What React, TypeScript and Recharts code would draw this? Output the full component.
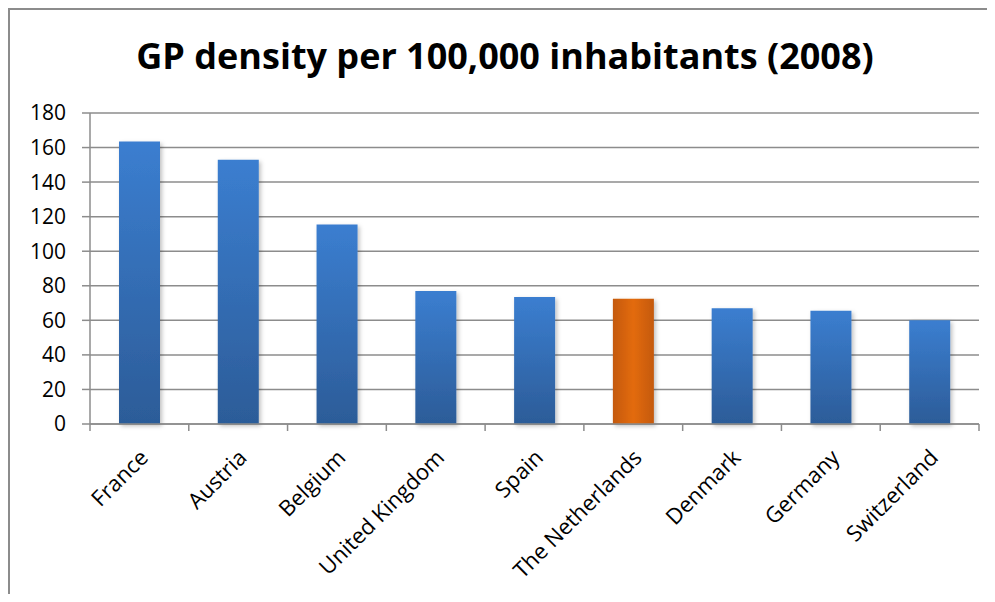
import React from "react";
import { BarChart, Bar, XAxis, YAxis, CartesianGrid, Cell } from "recharts";

const countries = [
  "France",
  "Austria",
  "Belgium",
  "United Kingdom",
  "Spain",
  "The Netherlands",
  "Denmark",
  "Germany",
  "Switzerland",
];
const density = [163.5, 153, 115.5, 77, 73.5, 72.5, 67, 65.5, 60];
const highlighted = "The Netherlands";
const yTicks = [0, 20, 40, 60, 80, 100, 120, 140, 160, 180];

const data = countries.map((name, i) => ({ name, value: density[i] }));

const FONT = "'Open Sans', Lato, sans-serif";
const PLOT_W = 889;
const BAND = PLOT_W / countries.length;

function CountryTick(props: any) {
  const { x, y, payload, index } = props;
  const ax = x + 10;
  const ay = y + 35;
  return (
    <g>
      <line x1={x - BAND / 2} y1={y} x2={x - BAND / 2} y2={y + 7} stroke="#8c8c8c" strokeWidth={1.5} />
      {index === countries.length - 1 && (
        <line x1={x + BAND / 2} y1={y} x2={x + BAND / 2} y2={y + 7} stroke="#8c8c8c" strokeWidth={1.5} />
      )}
      <text
        x={ax}
        y={ay}
        transform={`rotate(-45, ${ax}, ${ay})`}
        textAnchor="end"
        fontFamily={FONT}
        fontSize={22}
        fill="#000"
      >
        {payload.value}
      </text>
    </g>
  );
}

export default function App() {
  return (
    <div style={{ position: "relative", width: 987, height: 586, overflow: "hidden", background: "#fff" }}>
      <div
        style={{
          position: "absolute",
          left: 0,
          top: 0,
          width: 1200,
          height: 900,
          borderLeft: "2px solid #8c8c8c",
          borderTop: "2px solid #8c8c8c",
          pointerEvents: "none",
        }}
      />
      <div
        style={{
          position: "absolute",
          left: 0,
          top: 24,
          width: 994,
          textAlign: "center",
          fontFamily: FONT,
          fontWeight: 700,
          fontSize: 36,
          lineHeight: "48px",
          color: "#000",
        }}
      >
        GP density per 100,000 inhabitants (2008)
      </div>
      <BarChart
        width={987}
        height={586}
        data={data}
        margin={{ top: 105, right: 16, left: 0, bottom: 0 }}
        barSize={41}
      >
        <defs>
          <linearGradient id="blueGrad" x1="0" y1="0" x2="0" y2="1">
            <stop offset="0%" stopColor="#3b7ed0" />
            <stop offset="100%" stopColor="#2c5c98" />
          </linearGradient>
          <linearGradient id="orangeGrad" x1="0" y1="0" x2="1" y2="0">
            <stop offset="0%" stopColor="#c45908" />
            <stop offset="50%" stopColor="#e36b0b" />
            <stop offset="100%" stopColor="#c45908" />
          </linearGradient>
          <filter id="barShadow" x="-20%" y="-10%" width="150%" height="130%">
            <feDropShadow dx="2" dy="2" stdDeviation="2" floodColor="#000" floodOpacity="0.25" />
          </filter>
        </defs>
        <CartesianGrid vertical={false} stroke="#8c8c8c" strokeWidth={1.5} />
        <XAxis
          dataKey="name"
          height={170}
          interval={0}
          tickLine={false}
          tickSize={0}
          tickMargin={0}
          axisLine={{ stroke: "#8c8c8c", strokeWidth: 1.5 }}
          tick={<CountryTick />}
        />
        <YAxis
          width={82}
          domain={[0, 180]}
          ticks={yTicks}
          interval={0}
          tickSize={8}
          tickMargin={16}
          tickLine={{ stroke: "#8c8c8c", strokeWidth: 1.5 }}
          axisLine={{ stroke: "#8c8c8c", strokeWidth: 1.5 }}
          tick={{ fontFamily: FONT, fontSize: 21, fill: "#000" }}
        />
        <Bar dataKey="value" isAnimationActive={false}>
          {data.map((d) => (
            <Cell
              key={d.name}
              fill={d.name === highlighted ? "url(#orangeGrad)" : "url(#blueGrad)"}
              filter="url(#barShadow)"
            />
          ))}
        </Bar>
      </BarChart>
    </div>
  );
}
